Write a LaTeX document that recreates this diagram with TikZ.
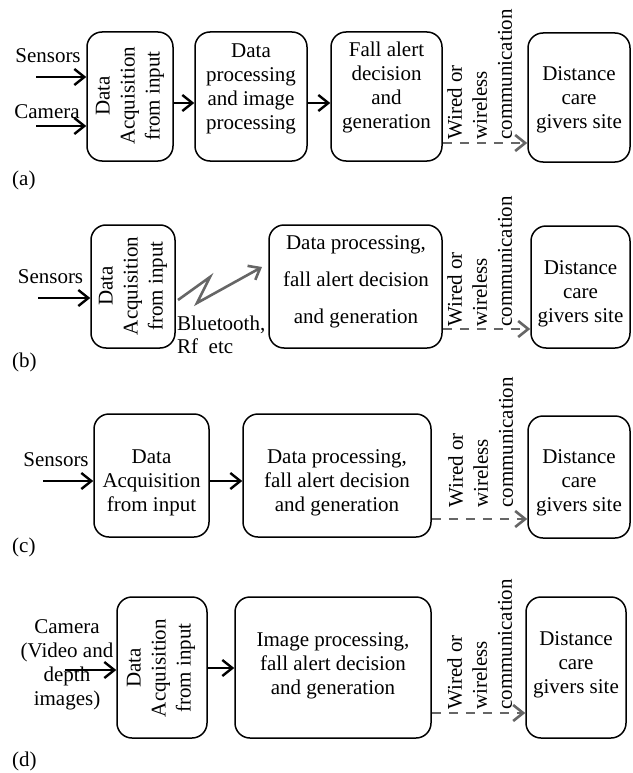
\documentclass[tikz,border=0pt]{standalone}
\usepackage{fontspec}
\setmainfont{Liberation Serif}
\usetikzlibrary{arrows.meta,calc}
\begin{document}
\begin{tikzpicture}[x=1pt,y=-1pt,
 box/.style={draw, line width=1.5pt, rounded corners=15pt, inner sep=0pt},
 txt/.style={inner sep=0pt, align=center, font=\fontsize{21}{24}\selectfont},
 rtxt/.style={rotate=90, align=center, inner sep=0pt, font=\fontsize{21}{25}\selectfont},
 arr/.style={line width=2.4pt, -{Straight Barb[length=10pt,width=16pt]}},
 comm/.style={line width=2.6pt, draw=black!60, dash pattern=on 9pt off 8pt, -{Straight Barb[length=10pt,width=16pt]}},
 wl/.style={rotate=90, align=left, anchor=north west, inner sep=0pt, font=\fontsize{21}{25}\selectfont},
 plbl/.style={anchor=west, inner sep=0pt, font=\fontsize{21}{24}\selectfont},
]
\useasboundingbox (0,0) rectangle (632,773);

% ---------------- (a)
\node[box, minimum width=86pt, minimum height=129pt] (a1) at (130,96.5) {};
\node[rtxt] (a1t) at (130,96) {Data\\Acquisition\\from input};
\node[box, minimum width=112pt, minimum height=129pt] (a2) at (251,96.5) {};
\node[txt] (a2t) at (251,88.5) {Data\\processing\\and image\\processing};
\node[box, minimum width=111pt, minimum height=129pt] (a3) at (386.5,96.5) {};
\node[txt] (a3t) at (386.5,87) {Fall alert\\decision\\and\\generation};
\node[box, minimum width=102pt, minimum height=129pt] (a4) at (579,97.5) {};
\node[txt] (a4t) at (579,99.5) {Distance\\care\\givers site};
\node[txt] (sena) at (48,56) {Sensors};
\node[txt] (cama) at (47,112) {Camera};
\coordinate (sa) at (36,77);
\coordinate (ca) at (36,126);
\coordinate (ya) at (0,103);
\coordinate (da) at (0,143);
\draw[arr] (sa) -- (a1.west |- sa);
\draw[arr] (ca) -- (a1.west |- ca);
\draw[arr] (a1.east |- ya) -- (a2.west |- ya);
\draw[arr] (a2.east |- ya) -- (a3.west |- ya);
\draw[comm] (a3.east |- da) -- (a4.west |- da);
\node[wl] (wla) at (447,140) {Wired or\\wireless\\communication};
\node[plbl] (la) at (12,180) {(a)};

% ---------------- (b)
\node[box, minimum width=84pt, minimum height=123pt] (b1) at (133,286.5) {};
\node[rtxt] (b1t) at (133,286) {Data\\Acquisition\\from input};
\node[box, minimum width=173pt, minimum height=123pt] (b2) at (355.5,286.5) {};
\node[txt, font=\fontsize{21}{37}\selectfont] (b2t) at (356,281.5) {Data processing,\\fall alert decision\\and generation};
\node[box, minimum width=99pt, minimum height=122pt] (b3) at (580.5,287) {};
\node[txt] (b3t) at (580.5,294) {Distance\\care\\givers site};
\node[txt] (senb) at (50.5,277) {Sensors};
\coordinate (sb) at (38,298);
\draw[arr] (sb) -- (b1.west |- sb);
\coordinate (z0) at (178,300);
\coordinate (z1) at (210,277);
\coordinate (z2) at (197,303);
\coordinate (z3) at (262,267);
\draw[line width=2.6pt, draw=black!60, line join=miter, -{Straight Barb[length=10pt,width=16pt]}] (z0) -- (z1) -- (z2) -- (z3);
\node[txt, align=left, anchor=west, font=\fontsize{21}{23}\selectfont] (bt) at (177,334.5) {Bluetooth,\\Rf\ \ etc};
\coordinate (db) at (0,329);
\draw[comm] (b2.east |- db) -- (b3.west |- db);
\node[wl] (wlb) at (447,327) {Wired or\\wireless\\communication};
\node[plbl] (lb) at (12,362) {(b)};

% ---------------- (c)
\node[box, minimum width=115pt, minimum height=123pt] (c1) at (151.5,475.5) {};
\node[txt] (c1t) at (151.5,483) {Data\\Acquisition\\from input};
\node[box, minimum width=188pt, minimum height=123pt] (c2) at (337,475.5) {};
\node[txt] (c2t) at (337,483) {Data processing,\\fall alert decision\\and generation};
\node[box, minimum width=102pt, minimum height=122pt] (c3) at (579,477) {};
\node[txt] (c3t) at (579,483) {Distance\\care\\givers site};
\node[txt] (senc) at (56,460) {Sensors};
\coordinate (sc) at (43,481);
\draw[arr] (sc) -- (c1.west |- sc);
\draw[arr] (c1.east |- sc) -- (c2.west |- sc);
\coordinate (dc) at (0,519);
\draw[comm] (c2.east |- dc) -- (c3.west |- dc);
\node[wl] (wlc) at (448,508) {Wired or\\wireless\\communication};
\node[plbl] (lc) at (12,547) {(c)};

% ---------------- (d)
\node[box, minimum width=90pt, minimum height=141pt] (d1) at (162,667.5) {};
\node[rtxt] (d1t) at (161,668) {Data\\Acquisition\\from input};
\node[box, minimum width=196pt, minimum height=141pt] (d2) at (333,667.5) {};
\node[txt] (d2t) at (333,666) {Image processing,\\fall alert decision\\and generation};
\node[box, minimum width=100pt, minimum height=141pt] (d3) at (576,667.5) {};
\node[txt] (d3t) at (576,664.5) {Distance\\care\\givers site};
\node[txt] (camd) at (67,665) {Camera\\(Video and\\depth\\images)};
\coordinate (sd) at (65,670);
\coordinate (yd) at (0,668);
\draw[arr] (sd) -- (d1.west |- sd);
\draw[arr] (d1.east |- yd) -- (d2.west |- yd);
\coordinate (dd) at (0,713);
\draw[comm] (d2.east |- dd) -- (d3.west |- dd);
\node[wl] (wld) at (447,710) {Wired or\\wireless\\communication};
\node[plbl] (ld) at (12,761) {(d)};
\end{tikzpicture}
\end{document}
